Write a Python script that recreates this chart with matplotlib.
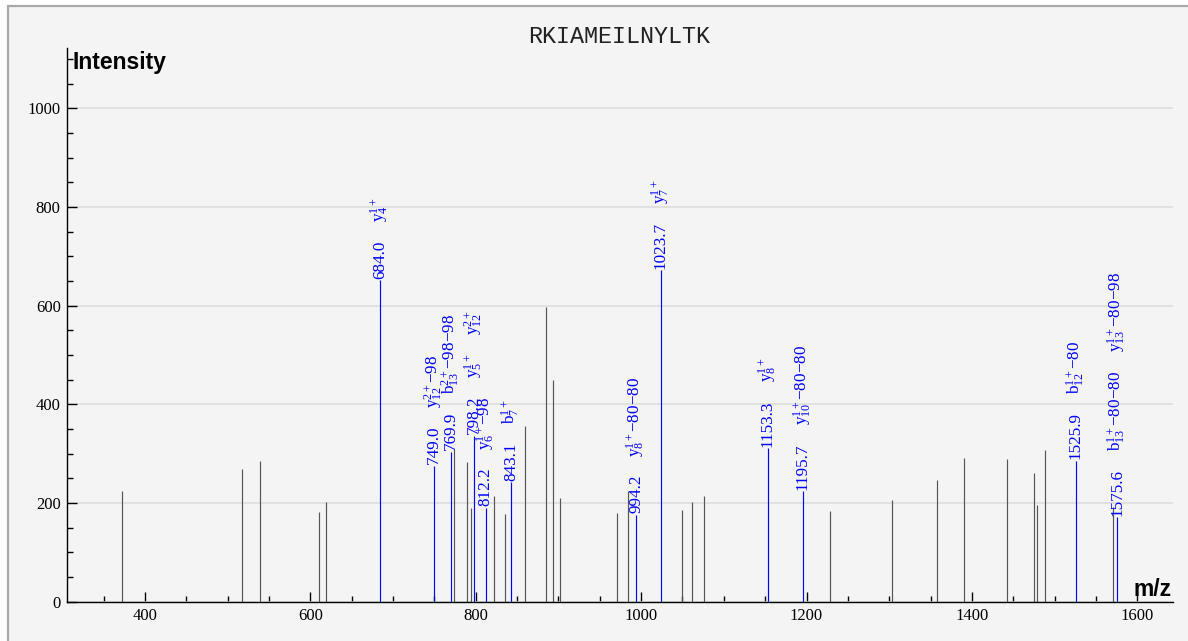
import matplotlib
matplotlib.use("Agg")
import matplotlib.pyplot as plt
from matplotlib.patches import Rectangle
from matplotlib.ticker import MultipleLocator

# ---------------- data ----------------
title = "RKIAMEILNYLTK"

gray_mz = [372.6, 517.7, 539.1, 610.8, 618.5, 773.3, 789.8, 793.9, 821.7, 835.0,
           859.2, 884.6, 893.8, 901.5, 970.8, 983.7, 1049.0, 1061.5, 1076.4, 1228.4,
           1303.0, 1357.4, 1390.8, 1442.0, 1474.7, 1479.0, 1488.0, 1570.3]
gray_int = [225, 268, 284, 181, 202, 309, 282, 190, 214, 177,
            355, 597, 449, 209, 179, 224, 185, 202, 215, 184,
            205, 246, 292, 290, 260, 196, 307, 191]

ann_mz = [684.0, 749.0, 769.9, 798.2, 812.2, 843.1, 994.2, 1023.7, 1153.3, 1195.7, 1525.9, 1575.6]
ann_int = [652, 275, 304, 336, 190, 242, 176, 672, 311, 224, 285, 171]
ann_labels = [
    [r"$\mathrm{y}_{4}^{1+}$"],
    [r"$\mathrm{y}_{12}^{2+}$−98"],
    [r"$\mathrm{b}_{13}^{2+}$−98−98"],
    [r"$\mathrm{y}_{5}^{1+}$", r"$\mathrm{y}_{12}^{2+}$"],
    [r"$\mathrm{y}_{6}^{1+}$−98"],
    [r"$\mathrm{b}_{7}^{1+}$"],
    [r"$\mathrm{y}_{8}^{1+}$−80−80"],
    [r"$\mathrm{y}_{7}^{1+}$"],
    [r"$\mathrm{y}_{8}^{1+}$"],
    [r"$\mathrm{y}_{10}^{1+}$−80−80"],
    [r"$\mathrm{b}_{12}^{1+}$−80"],
    [r"$\mathrm{b}_{13}^{1+}$−80−80", r"$\mathrm{y}_{13}^{1+}$−80−98"],
]

y_ticks = [0, 200, 400, 600, 800, 1000]
x_ticks = [400, 600, 800, 1000, 1200, 1400, 1600]

# ---------------- figure ----------------
plt.rcParams["mathtext.fontset"] = "custom"
plt.rcParams["mathtext.rm"] = "Liberation Serif"
plt.rcParams["mathtext.it"] = "Liberation Serif:italic"
plt.rcParams["mathtext.bf"] = "Liberation Serif:bold"

W, H, DPI = 1188, 641, 100
fig = plt.figure(figsize=(W / DPI, H / DPI), dpi=DPI)
fig.patch.set_facecolor("white")
bg = Rectangle((8 / W, -0.05), 1.2, 1.05 - 6 / H, transform=fig.transFigure,
               facecolor="#f4f4f4", edgecolor="#a8a8a8", linewidth=1.6, zorder=-10)
fig.patches.append(bg)

ax = fig.add_axes([67 / W, 1 - 601.5 / H, (1172.7 - 67) / W, (601.5 - 48) / H])
ax.set_facecolor("none")
ax.set_xlim(305.7, 1642.8)
ax.set_ylim(0, 1122.7)

for s in ["top", "right"]:
    ax.spines[s].set_visible(False)
for s in ["left", "bottom"]:
    ax.spines[s].set_linewidth(1.0)
    ax.spines[s].set_color("black")

ax.set_xticks(x_ticks)
ax.set_yticks(y_ticks)
ax.xaxis.set_minor_locator(MultipleLocator(50))
ax.yaxis.set_minor_locator(MultipleLocator(50))
ax.tick_params(which="major", direction="in", length=7.5, width=1.0, color="black")
ax.tick_params(which="minor", direction="in", length=4.5, width=1.0, color="black")
ax.tick_params(axis="x", which="major", pad=4.5)
ax.tick_params(axis="y", which="major", pad=4.5)
for lab in ax.get_xticklabels() + ax.get_yticklabels():
    lab.set_fontfamily("Liberation Serif")
    lab.set_fontsize(12)

ax.yaxis.grid(True, which="major", color="#dcdcdc", linewidth=1.1)
ax.set_axisbelow(True)

ax.vlines(gray_mz, 0, gray_int, colors="#555555", linewidth=0.85, zorder=2)
ax.vlines(ann_mz, 0, ann_int, colors="#0000ff", linewidth=0.85, zorder=3)

renderer = fig.canvas.get_renderer()
gap_px = 18
for mz, inten, labs in zip(ann_mz, ann_int, ann_labels):
    off = 1.5
    for s in [f"{mz:.1f}"] + labs:
        t = ax.annotate(s, xy=(mz, inten), xytext=(0, off * 72 / DPI),
                        textcoords="offset points", rotation=90,
                        ha="center", va="bottom", color="#0000ff",
                        fontsize=12.3, family="Liberation Serif", zorder=4)
        bb = t.get_window_extent(renderer)
        off += bb.height + gap_px

fig.text(73 / W, 1 - 69 / H, "Intensity", family="Liberation Sans", fontweight="bold",
         fontsize=16.5, ha="left", va="baseline")
fig.text(1172 / W, 1 - 596 / H, "m/z", family="Liberation Sans", fontweight="bold",
         fontsize=16.5, ha="right", va="baseline")
fig.text(619 / W, 1 - 43 / H, title, family="Liberation Mono", fontsize=16.8,
         ha="center", va="baseline", color="#222222")

fig.savefig("out.png", dpi=DPI)
